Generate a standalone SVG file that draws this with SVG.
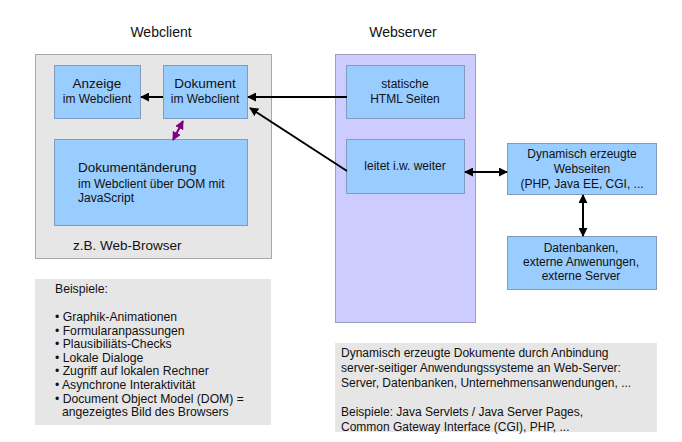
<svg xmlns="http://www.w3.org/2000/svg" width="682" height="442" viewBox="0 0 682 442">
<defs>
<style>
text{font-family:"Liberation Sans",Arial,sans-serif;fill:#111;}
.t14{font-size:14px;}
.t13{font-size:13.5px;}
.t12{font-size:12px;}
.b12{font-size:12.2px;}
.mid{text-anchor:middle;}
.gray{fill:#e6e6e6;stroke:#a8a8a8;stroke-width:1;}
.purp{fill:#ccccff;stroke:#9d9dbd;stroke-width:1;}
.blue{fill:#99ccff;stroke:#7f9cbf;stroke-width:1;}
.arr{stroke:#000;stroke-width:2;fill:none;}
.parr{stroke:#800080;stroke-width:2;fill:none;}
</style>
<marker id="ah" viewBox="0 0 10 10" refX="9" refY="5" markerUnits="userSpaceOnUse" markerWidth="9" markerHeight="9" orient="auto-start-reverse">
<path d="M0,0 L10,5 L0,10 z" fill="#000"/>
</marker>
<marker id="ahp" viewBox="0 0 10 10" refX="9" refY="5" markerUnits="userSpaceOnUse" markerWidth="9" markerHeight="9" orient="auto-start-reverse">
<path d="M0,0 L10,5 L0,10 z" fill="#800080"/>
</marker>
</defs>
<rect width="682" height="442" fill="#fff"/>

<g id="title-webclient"><text class="t14 mid" x="161" y="37">Webclient</text></g>
<g id="title-webserver"><text class="t14 mid" x="403" y="37">Webserver</text></g>

<g id="webclient">
<rect class="gray" x="35.5" y="54.5" width="236" height="204"/>
<text class="t13" x="73" y="250">z.B. Web-Browser</text>
</g>

<g id="webserver">
<rect class="purp" x="335.5" y="54.5" width="140" height="268"/>
</g>

<g id="anzeige">
<rect class="blue" x="54.5" y="65.5" width="86" height="53"/>
<text class="t13 mid" x="97" y="88">Anzeige</text>
<text class="t12 mid" x="97" y="103">im Webclient</text>
</g>

<g id="dokument">
<rect class="blue" x="163.5" y="65.5" width="84" height="53"/>
<text class="t13 mid" x="205" y="88">Dokument</text>
<text class="t12 mid" x="205" y="103">im Webclient</text>
</g>

<g id="dokumentaenderung">
<rect class="blue" x="54.5" y="139.5" width="193" height="86"/>
<text class="t13" x="78" y="172">Dokumentänderung</text>
<text class="t12" x="78" y="188">im Webclient über DOM mit</text>
<text class="t12" x="78" y="202">JavaScript</text>
</g>

<g id="statische">
<rect class="blue" x="346.5" y="65.5" width="118" height="53"/>
<text class="t12 mid" x="405" y="88">statische</text>
<text class="t12 mid" x="405" y="103">HTML Seiten</text>
</g>

<g id="leitet">
<rect class="blue" x="346.5" y="139.5" width="118" height="54"/>
<text class="t12 mid" x="405" y="170">leitet i.w. weiter</text>
</g>

<g id="dynamisch">
<rect class="blue" x="507.5" y="143.5" width="149" height="51"/>
<text class="t12 mid" x="582" y="158">Dynamisch erzeugte</text>
<text class="t12 mid" x="582" y="173">Webseiten</text>
<text class="t12 mid" x="582" y="188">(PHP, Java EE, CGI, ...</text>
</g>

<g id="datenbanken">
<rect class="blue" x="507.5" y="236.5" width="149" height="53"/>
<text class="t12 mid" x="581" y="252">Datenbanken,</text>
<text class="t12 mid" x="581" y="266">externe Anwenungen,</text>
<text class="t12 mid" x="581" y="280">externe Server</text>
</g>

<g id="beispiele-client">
<rect x="35" y="279" width="236" height="146" fill="#e6e6e6"/>
<text class="b12" x="55" y="293">Beispiele:</text>
<text class="b12" x="55" y="321">• Graphik-Animationen</text>
<text class="b12" x="55" y="334.6">• Formularanpassungen</text>
<text class="b12" x="55" y="348.2">• Plausibiliäts-Checks</text>
<text class="b12" x="55" y="361.8">• Lokale Dialoge</text>
<text class="b12" x="55" y="375.4">• Zugriff auf lokalen Rechner</text>
<text class="b12" x="55" y="389">• Asynchrone Interaktivität</text>
<text class="b12" x="55" y="402.6">• Document Object Model (DOM) =</text>
<text class="b12" x="62" y="416.2">angezeigtes Bild des Browsers</text>
</g>

<g id="beispiele-server">
<rect x="335" y="343" width="322" height="89" fill="#e6e6e6"/>
<text class="t12" x="341" y="357">Dynamisch erzeugte Dokumente durch Anbindung</text>
<text class="t12" x="341" y="372">server-seitiger Anwendungssysteme an Web-Server:</text>
<text class="t12" x="341" y="387">Server, Datenbanken, Unternehmensanwendungen, ...</text>
<text class="t12" x="341" y="416">Beispiele: Java Servlets / Java Server Pages,</text>
<text class="t12" x="341" y="431">Common Gateway Interface (CGI), PHP, ...</text>
</g>

<g id="connectors">
<line class="arr" x1="163" y1="97" x2="141" y2="97" marker-end="url(#ah)"/>
<line class="arr" x1="347" y1="97" x2="248" y2="97" marker-end="url(#ah)"/>
<line class="arr" x1="347" y1="171" x2="250" y2="108" marker-end="url(#ah)"/>
<line class="parr" x1="183" y1="121" x2="173" y2="140" marker-start="url(#ahp)" marker-end="url(#ahp)"/>
<line class="arr" x1="465" y1="172" x2="507" y2="172" marker-start="url(#ah)" marker-end="url(#ah)"/>
<line class="arr" x1="583" y1="195" x2="583" y2="236" marker-start="url(#ah)" marker-end="url(#ah)"/>
</g>
</svg>
